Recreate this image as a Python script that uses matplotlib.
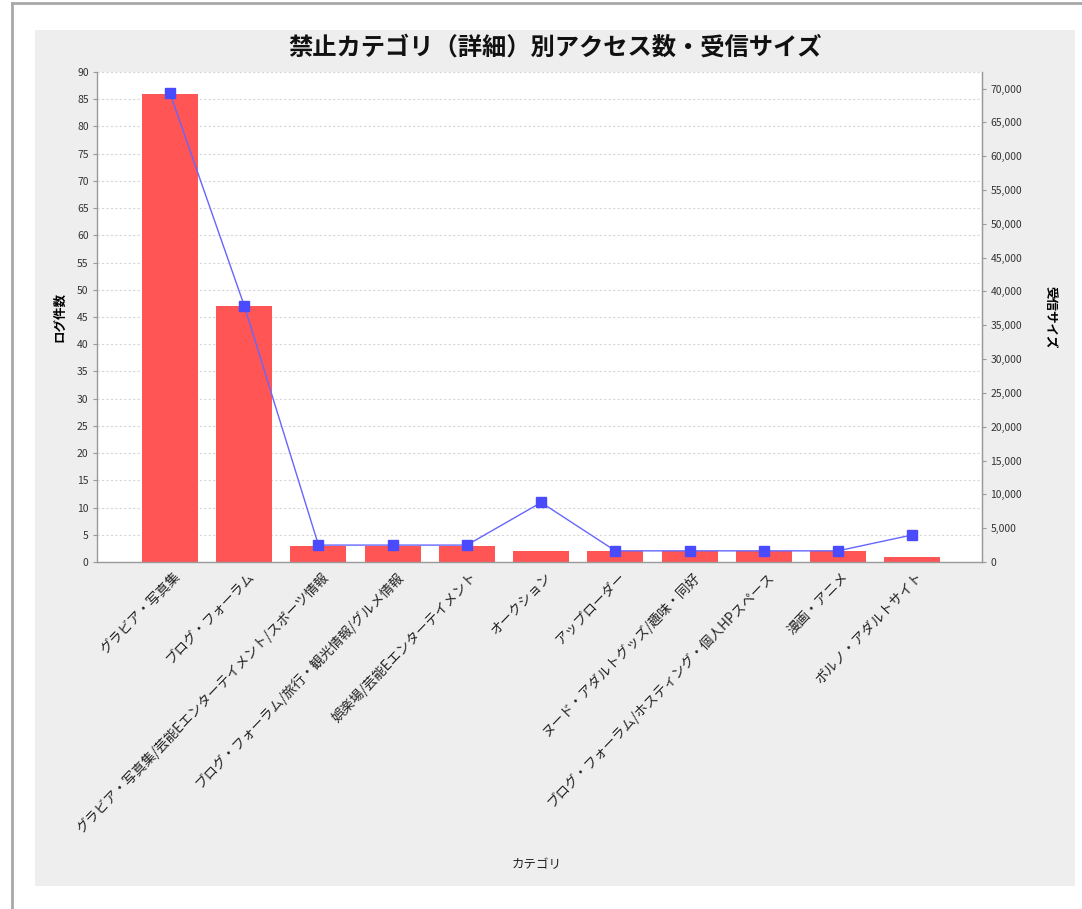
import matplotlib
matplotlib.use("Agg")
import matplotlib.pyplot as plt
import matplotlib.transforms as mtransforms
from matplotlib.patches import Rectangle
from matplotlib.lines import Line2D
from matplotlib.ticker import FuncFormatter

plt.rcParams['font.family'] = ['Noto Sans CJK JP', 'DejaVu Sans']

title = "禁止カテゴリ（詳細）別アクセス数・受信サイズ"
categories = [
    "グラビア・写真集",
    "ブログ・フォーラム",
    "グラビア・写真集/芸能Eエンターテイメント/スポーツ情報",
    "ブログ・フォーラム/旅行・観光情報/グルメ情報",
    "娯楽場/芸能Eエンターテイメント",
    "オークション",
    "アップローダー",
    "ヌード・アダルトグッズ/趣味・同好",
    "ブログ・フォーラム/ホスティング・個人HPスペース",
    "漫画・アニメ",
    "ポルノ・アダルトサイト",
]
log_counts = [86, 47, 3, 3, 3, 2, 2, 2, 2, 2, 1]
recv_sizes = [69300, 37900, 2500, 2500, 2500, 8800, 1650, 1650, 1650, 1650, 4000]
left_ticks = list(range(0, 91, 5))
right_ticks = list(range(0, 70001, 5000))

W, H = 1082, 909
fig = plt.figure(figsize=(W / 100, H / 100), dpi=100)
fig.patch.set_facecolor('white')

# outer page border and gray chart panel
fig.add_artist(Line2D([12 / W, 12 / W], [0, 1 - 3 / H], transform=fig.transFigure,
                      color='#a8a8a8', lw=2))
fig.add_artist(Line2D([12 / W, 1], [1 - 3 / H, 1 - 3 / H], transform=fig.transFigure,
                      color='#a8a8a8', lw=2))
fig.add_artist(Rectangle((35 / W, 1 - 886 / H), 1040 / W, 856 / H, transform=fig.transFigure,
                         facecolor='#eeeeee', edgecolor='none', zorder=0))

ax = fig.add_axes([97 / W, 1 - 562 / H, (982 - 97) / W, (562 - 72) / H])
ax.set_facecolor('white')
x = list(range(len(categories)))
ax.bar(x, log_counts, width=0.755, color='#ff5555', zorder=2)
ax.set_xlim(-0.984, 10.94)
ax.set_ylim(0, 90)
ax.set_yticks(left_ticks)
ax.grid(axis='y', color='#d6d6d6', linestyle=(0, (2, 2)), linewidth=0.8, zorder=0)
ax.set_axisbelow(True)
ax.spines['top'].set_visible(False)
for s in ['left', 'bottom', 'right']:
    ax.spines[s].set_color('#999999')
    ax.spines[s].set_linewidth(1.0)
ax.tick_params(axis='y', labelsize=7.5, length=3, color='#999999', pad=3, labelcolor='#333333')
ax.tick_params(axis='x', length=0, pad=9)
ax.set_xticks(x)
ax.set_xticklabels(categories, rotation=46, ha='right', va='center',
                   rotation_mode='anchor', fontsize=9.7, color='#222222')
offset = mtransforms.ScaledTranslation(8 / 100, 0, fig.dpi_scale_trans)
for lab in ax.get_xticklabels():
    lab.set_transform(lab.get_transform() + offset)
ax.set_ylabel("ログ件数", fontsize=9, fontweight='bold', labelpad=8)

ax2 = ax.twinx()
ax2.plot(x, recv_sizes, color='#6666ff', lw=1.0, marker='s', markersize=7,
         markerfacecolor='#4a4aff', markeredgecolor='#4a4aff', zorder=3)
ax2.set_ylim(0, 72450)
ax2.set_yticks(right_ticks)
ax2.yaxis.set_major_formatter(FuncFormatter(lambda v, p: f"{int(v):,}"))
ax2.tick_params(axis='y', labelsize=7.5, length=3, color='#999999', pad=3, labelcolor='#333333')
for s in ['top', 'left', 'bottom']:
    ax2.spines[s].set_visible(False)
ax2.spines['right'].set_color('#999999')
ax2.set_ylabel("受信サイズ", fontsize=9, fontweight='bold', rotation=270, labelpad=25)

fig.text(555 / W, 1 - 48 / H, title, ha='center', va='center', fontsize=17.5, fontweight='bold',
         color='#111111')
fig.text(537 / W, 1 - 865 / H, "カテゴリ", ha='center', va='center', fontsize=9, color='#222222')

fig.savefig("out.png", dpi=100, facecolor=fig.get_facecolor())
